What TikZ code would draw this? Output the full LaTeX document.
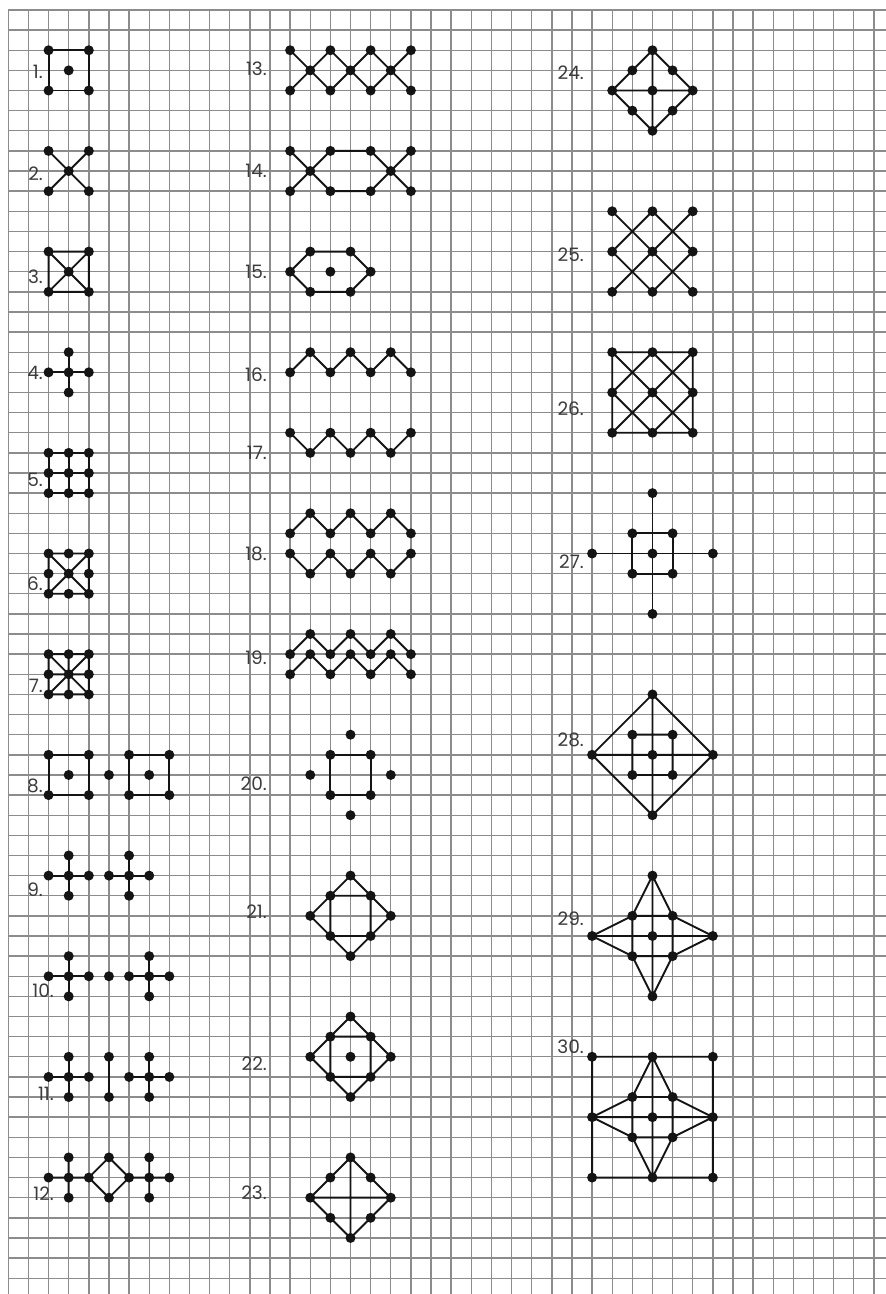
\documentclass[tikz,border=0pt]{standalone}
\usepackage{fontspec}
\setmainfont{Poppins}
\definecolor{gridc}{RGB}{140,140,140}
\definecolor{inkc}{RGB}{20,20,20}
\definecolor{labc}{RGB}{60,60,60}
\newcommand{\pts}[1]{\foreach \p in {#1}{\fill[dotfill] \p circle[radius=5pt];}}
\tikzset{
  gridline/.style={draw=gridc,line width=1.4pt},
  fig/.style={draw=inkc,line width=1.9pt,line join=round,line cap=round},
  dotfill/.style={fill=inkc},
  lab/.style={text=labc,font=\fontsize{18.5}{18.5}\selectfont,inner sep=0pt,anchor=east}
}
\begin{document}
\begin{tikzpicture}[x=20.13pt,y=-20.13pt]
\useasboundingbox (-0.4123,-0.4968) rectangle (43.601,63.785);
\fill[white] (-0.4123,-0.4968) rectangle (43.601,63.785);
% grid
\foreach \i in {0,...,43} \draw[gridline] (\i,0) -- (\i,63.785);
\foreach \j in {0,...,63} \draw[gridline] (0,\j) -- (43.601,\j);

% ---------- column 1 ----------
% 1
\draw[fig] (2,2) rectangle (4,4);
\pts{(2,2),(4,2),(3,3),(2,4),(4,4)}
% 2
\draw[fig] (2,7)--(4,9) (4,7)--(2,9);
\pts{(2,7),(4,7),(3,8),(2,9),(4,9)}
% 3
\draw[fig] (2,12) rectangle (4,14) (2,12)--(4,14) (4,12)--(2,14);
\pts{(2,12),(4,12),(3,13),(2,14),(4,14)}
% 4
\draw[fig] (2,18)--(4,18) (3,17)--(3,19);
\pts{(3,17),(2,18),(3,18),(4,18),(3,19)}
% 5
\draw[fig] (2,22) rectangle (4,24) (2,23)--(4,23) (3,22)--(3,24);
\pts{(2,22),(3,22),(4,22),(2,23),(3,23),(4,23),(2,24),(3,24),(4,24)}
% 6
\draw[fig] (2,27) rectangle (4,29) (2,27)--(4,29) (4,27)--(2,29);
\pts{(2,27),(3,27),(4,27),(2,28),(3,28),(4,28),(2,29),(3,29),(4,29)}
% 7
\draw[fig] (2,32) rectangle (4,34) (2,32)--(4,34) (4,32)--(2,34) (3,32)--(3,34) (2,33)--(4,33);
\pts{(2,32),(3,32),(4,32),(2,33),(3,33),(4,33),(2,34),(3,34),(4,34)}
% 8
\draw[fig] (2,37) rectangle (4,39) (6,37) rectangle (8,39);
\pts{(2,37),(4,37),(3,38),(2,39),(4,39),(5,38),(6,37),(8,37),(7,38),(6,39),(8,39)}
% 9
\draw[fig] (2,43)--(4,43) (3,42)--(3,44) (5,43)--(7,43) (6,42)--(6,44);
\pts{(3,42),(2,43),(3,43),(4,43),(3,44),(6,42),(5,43),(6,43),(7,43),(6,44)}
% 10
\draw[fig] (2,48)--(4,48) (3,47)--(3,49) (6,48)--(8,48) (7,47)--(7,49);
\pts{(3,47),(2,48),(3,48),(4,48),(3,49),(5,48),(7,47),(6,48),(7,48),(8,48),(7,49)}
% 11
\draw[fig] (2,53)--(4,53) (3,52)--(3,54) (5,52)--(5,54) (6,53)--(8,53) (7,52)--(7,54);
\pts{(3,52),(2,53),(3,53),(4,53),(3,54),(5,52),(5,54),(7,52),(6,53),(7,53),(8,53),(7,54)}
% 12
\draw[fig] (2,58)--(4,58) (3,57)--(3,59) (4,58)--(5,57)--(6,58)--(5,59)--cycle (6,58)--(8,58) (7,57)--(7,59);
\pts{(3,57),(2,58),(3,58),(4,58),(3,59),(5,57),(5,59),(7,57),(6,58),(7,58),(8,58),(7,59)}

% ---------- column 2 ----------
% 13
\draw[fig] (14,2)--(15,3)--(16,4)--(17,3)--(18,2)--(19,3)--(20,4)
           (14,4)--(15,3)--(16,2)--(17,3)--(18,4)--(19,3)--(20,2);
\pts{(14,2),(16,2),(18,2),(20,2),(15,3),(17,3),(19,3),(14,4),(16,4),(18,4),(20,4)}
% 14
\draw[fig] (14,7)--(16,9) (14,9)--(16,7) (16,7)--(18,7) (16,9)--(18,9) (18,7)--(20,9) (18,9)--(20,7);
\pts{(14,7),(16,7),(18,7),(20,7),(15,8),(19,8),(14,9),(16,9),(18,9),(20,9)}
% 15
\draw[fig] (14,13)--(15,12)--(17,12)--(18,13)--(17,14)--(15,14)--cycle;
\pts{(14,13),(15,12),(17,12),(18,13),(17,14),(15,14),(16,13)}
% 16
\draw[fig] (14,18)--(15,17)--(16,18)--(17,17)--(18,18)--(19,17)--(20,18);
\pts{(14,18),(15,17),(16,18),(17,17),(18,18),(19,17),(20,18)}
% 17
\draw[fig] (14,21)--(15,22)--(16,21)--(17,22)--(18,21)--(19,22)--(20,21);
\pts{(14,21),(15,22),(16,21),(17,22),(18,21),(19,22),(20,21)}
% 18
\draw[fig] (14,26)--(15,25)--(16,26)--(17,25)--(18,26)--(19,25)--(20,26)
           (14,27)--(15,28)--(16,27)--(17,28)--(18,27)--(19,28)--(20,27);
\pts{(14,26),(15,25),(16,26),(17,25),(18,26),(19,25),(20,26),(14,27),(15,28),(16,27),(17,28),(18,27),(19,28),(20,27)}
% 19
\draw[fig] (14,32)--(15,31)--(16,32)--(17,31)--(18,32)--(19,31)--(20,32)
           (14,33)--(15,32)--(16,33)--(17,32)--(18,33)--(19,32)--(20,33);
\pts{(15,31),(17,31),(19,31),(14,32),(15,32),(16,32),(17,32),(18,32),(19,32),(20,32),(14,33),(16,33),(18,33),(20,33)}
% 20
\draw[fig] (16,37) rectangle (18,39);
\pts{(17,36),(16,37),(18,37),(15,38),(19,38),(16,39),(18,39),(17,40)}
% 21
\draw[fig] (17,43)--(19,45)--(17,47)--(15,45)--cycle (16,44) rectangle (18,46);
\pts{(17,43),(16,44),(18,44),(15,45),(19,45),(16,46),(18,46),(17,47)}
% 22
\draw[fig] (17,50)--(19,52)--(17,54)--(15,52)--cycle (16,51) rectangle (18,53);
\pts{(17,50),(16,51),(18,51),(15,52),(17,52),(19,52),(16,53),(18,53),(17,54)}
% 23
\draw[fig] (17,57)--(19,59)--(17,61)--(15,59)--cycle (15,59)--(19,59) (17,57)--(17,61);
\pts{(17,57),(16,58),(18,58),(15,59),(19,59),(16,60),(18,60),(17,61)}

% ---------- column 3 ----------
% 24
\draw[fig] (32,2)--(34,4)--(32,6)--(30,4)--cycle (30,4)--(34,4) (32,2)--(32,6);
\pts{(32,2),(31,3),(33,3),(30,4),(32,4),(34,4),(31,5),(33,5),(32,6)}
% 25
\draw[fig] (30,10)--(34,14) (32,10)--(34,12) (30,12)--(32,14)
           (34,10)--(30,14) (32,10)--(30,12) (34,12)--(32,14);
\pts{(30,10),(32,10),(34,10),(30,12),(32,12),(34,12),(30,14),(32,14),(34,14)}
% 26
\draw[fig] (30,17) rectangle (34,21)
           (30,17)--(34,21) (32,17)--(34,19) (30,19)--(32,21)
           (34,17)--(30,21) (32,17)--(30,19) (34,19)--(32,21);
\pts{(30,17),(32,17),(34,17),(30,19),(32,19),(34,19),(30,21),(32,21),(34,21)}
% 27
\draw[fig] (31,26) rectangle (33,28) (29,27)--(35,27) (32,24)--(32,30);
\pts{(32,24),(31,26),(33,26),(29,27),(32,27),(35,27),(31,28),(33,28),(32,30)}
% 28
\draw[fig] (32,34)--(35,37)--(32,40)--(29,37)--cycle (29,37)--(35,37) (32,34)--(32,40) (31,36) rectangle (33,38);
\pts{(32,34),(31,36),(33,36),(29,37),(32,37),(35,37),(31,38),(33,38),(32,40)}
% 29
\draw[fig] (32,43)--(33,45)--(35,46)--(33,47)--(32,49)--(31,47)--(29,46)--(31,45)--cycle
           (31,45) rectangle (33,47) (29,46)--(35,46) (32,43)--(32,49);
\pts{(32,43),(31,45),(33,45),(29,46),(32,46),(35,46),(31,47),(33,47),(32,49)}
% 30
\draw[fig] (29,52) rectangle (35,58)
           (32,52)--(33,54)--(35,55)--(33,56)--(32,58)--(31,56)--(29,55)--(31,54)--cycle
           (31,54) rectangle (33,56) (29,55)--(35,55) (32,52)--(32,58);
\pts{(29,52),(32,52),(35,52),(31,54),(33,54),(29,55),(32,55),(35,55),(31,56),(33,56),(29,58),(32,58),(35,58)}

% ---------- labels ----------
\node[lab] (l1) at (1.724,3.08) {1.};
\node[lab] (l2) at (1.724,8.15) {2.};
\node[lab] (l3) at (1.724,13.26) {3.};
\node[lab] (l4) at (1.724,18.03) {4.};
\node[lab] (l5) at (1.724,23.35) {5.};
\node[lab] (l6) at (1.724,28.51) {6.};
\node[lab] (l7) at (1.724,33.58) {7.};
\node[lab] (l8) at (1.724,38.55) {8.};
\node[lab] (l9) at (1.724,43.72) {9.};
\node[lab] (l10) at (2.27,48.73) {10.};
\node[lab] (l11) at (2.27,53.85) {11.};
\node[lab] (l12) at (2.27,58.82) {12.};
\node[lab] (l13) at (12.85,2.93) {13.};
\node[lab] (l14) at (12.85,8.0) {14.};
\node[lab] (l15) at (12.85,13.02) {15.};
\node[lab] (l16) at (12.85,18.13) {16.};
\node[lab] (l17) at (12.85,22.01) {17.};
\node[lab] (l18) at (12.85,27.02) {18.};
\node[lab] (l19) at (12.85,32.19) {19.};
\node[lab] (l20) at (12.85,38.45) {20.};
\node[lab] (l21) at (12.85,44.81) {21.};
\node[lab] (l22) at (12.85,52.36) {22.};
\node[lab] (l23) at (12.85,58.77) {23.};
\node[lab] (l24) at (28.6,3.13) {24.};
\node[lab] (l25) at (28.6,12.17) {25.};
\node[lab] (l26) at (28.6,19.82) {26.};
\node[lab] (l27) at (28.6,27.42) {27.};
\node[lab] (l28) at (28.6,36.26) {28.};
\node[lab] (l29) at (28.6,45.16) {29.};
\node[lab] (l30) at (28.6,51.51) {30.};
\end{tikzpicture}
\end{document}
